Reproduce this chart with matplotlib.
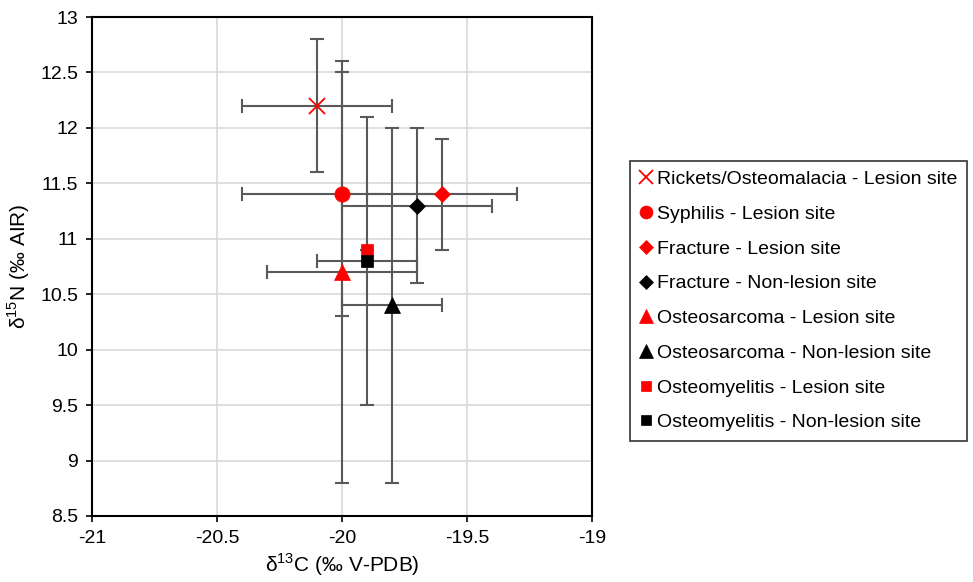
import matplotlib.pyplot as plt

plt.rcParams['font.family'] = ['Liberation Sans', 'DejaVu Sans']
plt.rcParams['mathtext.fontset'] = 'custom'
plt.rcParams['mathtext.rm'] = 'Liberation Sans'

# data
labels = ['Rickets/Osteomalacia - Lesion site', 'Syphilis - Lesion site',
          'Fracture - Lesion site', 'Fracture - Non-lesion site',
          'Osteosarcoma - Lesion site', 'Osteosarcoma - Non-lesion site',
          'Osteomyelitis - Lesion site', 'Osteomyelitis - Non-lesion site']
d13c = [-20.1, -20.0, -19.6, -19.7, -20.0, -19.8, -19.9, -19.9]
d15n = [12.2, 11.4, 11.4, 11.3, 10.7, 10.4, 10.9, 10.8]
d13c_err = [0.3, 0.4, 0.3, 0.3, 0.3, 0.2, 0.0, 0.2]
d15n_err = [0.6, 1.1, 0.5, 0.7, 1.9, 1.6, 0.0, 1.3]
colors = ['red', 'red', 'red', 'black', 'red', 'black', 'red', 'black']
markers = ['x', 'o', 'D', 'D', '^', '^', 's', 's']
sizes = [12, 11, 8, 8, 12, 12, 9, 9]

fig = plt.figure(figsize=(9.73, 5.82), dpi=100)
ax = fig.add_axes([92 / 973, 1 - 516 / 582, 500 / 973, 499 / 582])

for i in range(len(labels)):
    ax.errorbar(d13c[i], d15n[i], xerr=d13c_err[i], yerr=d15n_err[i],
                fmt='none', ecolor='#595959', elinewidth=1.5, capsize=5,
                capthick=1.5, zorder=2)
for i in range(len(labels)):
    ax.plot(d13c[i], d15n[i], linestyle='none', marker=markers[i],
            color=colors[i], markersize=sizes[i],
            markeredgewidth=1.3 if markers[i] == 'x' else 0.5,
            label=labels[i], zorder=3)

ax.set_xlim(-21, -19)
ax.set_ylim(8.5, 13)
ax.set_xticks([-21, -20.5, -20, -19.5, -19])
ax.set_xticklabels(['-21', '-20.5', '-20', '-19.5', '-19'])
ax.set_yticks([8.5, 9, 9.5, 10, 10.5, 11, 11.5, 12, 12.5, 13])
ax.set_yticklabels(['8.5', '9', '9.5', '10', '10.5', '11', '11.5', '12', '12.5', '13'])
ax.grid(True, color='#d9d9d9', linewidth=1.2)
ax.set_axisbelow(True)
for s in ax.spines.values():
    s.set_color('black')
    s.set_linewidth(1.5)
ax.tick_params(direction='out', length=4, width=1.2, labelsize=14, pad=6)

ax.set_xlabel(r'δ$^{13}$C (‰ V-PDB)', fontsize=15, labelpad=3)
ax.set_ylabel(r'δ$^{15}$N (‰ AIR)', fontsize=15, labelpad=6)

leg = ax.legend(loc='center left', bbox_to_anchor=(1.076, 0.431), fontsize=14,
                frameon=True, fancybox=False, edgecolor='black',
                handlelength=0.6, handletextpad=0.3, labelspacing=0.88,
                borderpad=0.5, borderaxespad=0, markerscale=0.85)
leg.get_frame().set_linewidth(1.2)

fig.savefig('out.png', dpi=100)
